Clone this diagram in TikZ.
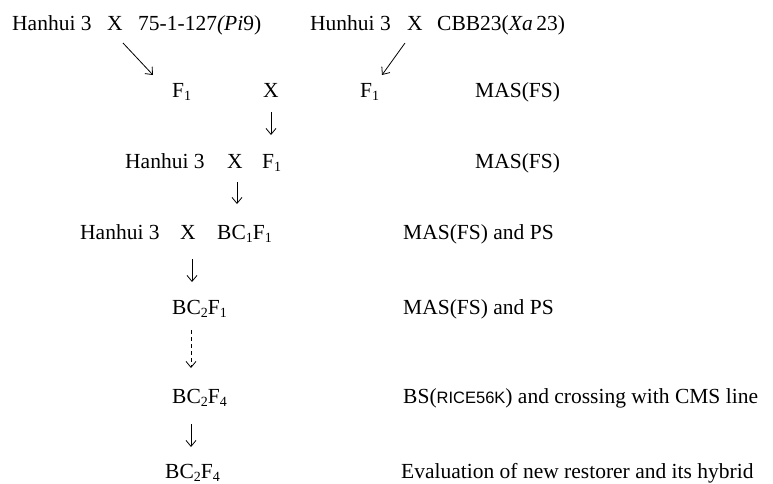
\documentclass[tikz,border=0pt]{standalone}
\usepackage{fontspec}
\setmainfont{Liberation Serif}
\newfontfamily\lsans{Liberation Sans}
\usetikzlibrary{arrows.meta}
\newcommand{\lsub}[1]{\raisebox{-0.35ex}{\fontsize{14}{14}\selectfont #1}}
\begin{document}
\begin{tikzpicture}[x=1pt,y=-1pt,
  txt/.style={anchor=base west,inner sep=0pt,font=\fontsize{21.5}{24}\selectfont},
  arr/.style={line width=0.8pt,-{Straight Barb[length=6pt,width=10pt]}},
  darr/.style={arr,dash pattern=on 4pt off 3pt}]
\useasboundingbox (0,0) rectangle (773,483);
% row 1
\node[txt] (h1) at (12,30) {Hanhui 3};
\node[txt] (x1) at (107,30) {X};
\node[txt] (p1) at (138,30) {75-1-127\textit{(Pi}9)};
\node[txt] (h2) at (310,30) {Hunhui 3};
\node[txt] (x2) at (407,30) {X};
\node[txt] (p2) at (437,30) {CBB23(\textit{Xa}\,23)};
% row 2
\node[txt] (f1a) at (172,97) {F\lsub{1}};
\node[txt] (x3) at (263,97) {X};
\node[txt] (f1b) at (360,97) {F\lsub{1}};
\node[txt] (m1) at (475,97) {MAS(FS)};
% row 3
\node[txt] (h3) at (125,168) {Hanhui 3};
\node[txt] (x4) at (227,168) {X};
\node[txt] (f1c) at (262,168) {F\lsub{1}};
\node[txt] (m2) at (475,168) {MAS(FS)};
% row 4
\node[txt] (h4) at (80,239) {Hanhui 3};
\node[txt] (x5) at (180,239) {X};
\node[txt] (bc1) at (217,239) {BC\lsub{1}F\lsub{1}};
\node[txt] (m3) at (403,239) {MAS(FS) and PS};
% row 5
\node[txt] (bc2) at (172,314) {BC\lsub{2}F\lsub{1}};
\node[txt] (m4) at (403,314) {MAS(FS) and PS};
% row 6
\node[txt] (bc3) at (172,403) {BC\lsub{2}F\lsub{4}};
\node[txt] (bs) at (403,403) {BS({\lsans\fontsize{16.5}{18}\selectfont RICE56K}) and crossing with CMS line};
% row 7
\node[txt] (bc4) at (165,478) {BC\lsub{2}F\lsub{4}};
\node[txt] (ev) at (401,478) {Evaluation of new restorer and its hybrid};
% arrows
\coordinate (a1s) at (123,43); \coordinate (a1e) at (153,75);
\coordinate (a2s) at (405,43); \coordinate (a2e) at (382,75);
\coordinate (a3s) at (271,112); \coordinate (a3e) at (271,135);
\coordinate (a4s) at (237,182); \coordinate (a4e) at (237,204);
\coordinate (a5s) at (192,259); \coordinate (a5e) at (192,282);
\coordinate (a6s) at (191,330); \coordinate (a6e) at (191,368);
\coordinate (a7s) at (191,424); \coordinate (a7e) at (191,447);
\draw[arr] (a1s) -- (a1e);
\draw[arr] (a2s) -- (a2e);
\draw[arr] (a3s) -- (a3e);
\draw[arr] (a4s) -- (a4e);
\draw[arr] (a5s) -- (a5e);
\draw[darr] (a6s) -- (a6e);
\draw[arr] (a7s) -- (a7e);
\end{tikzpicture}
\end{document}
